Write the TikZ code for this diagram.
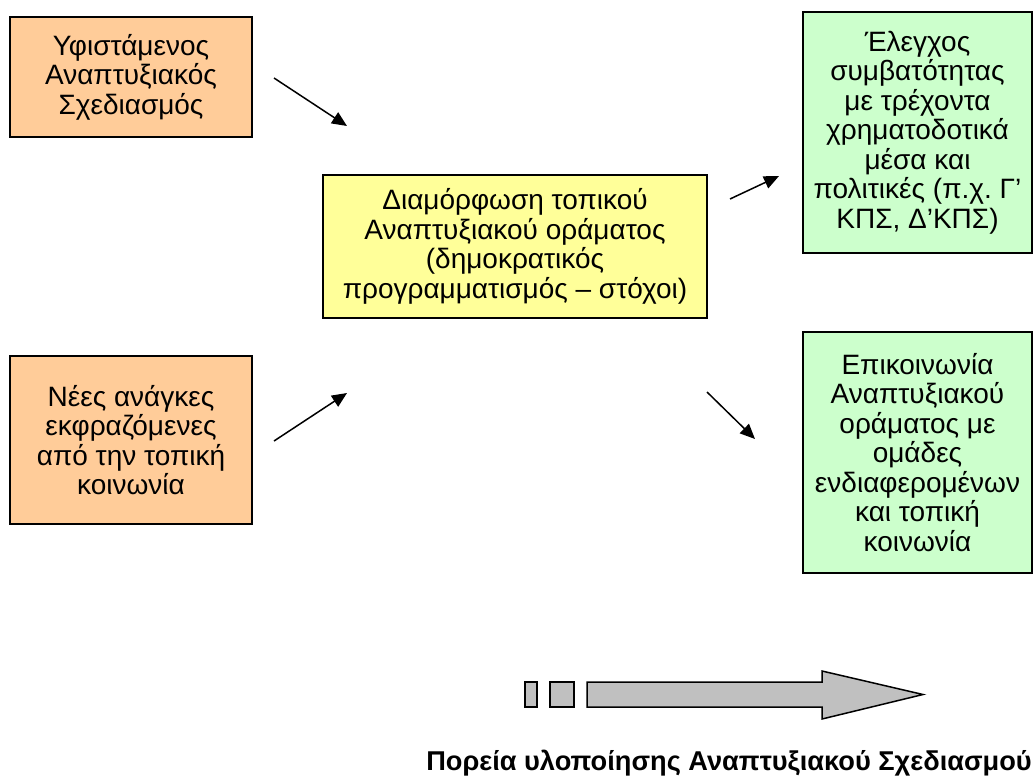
\documentclass[tikz,border=0pt]{standalone}
\usepackage{fontspec}
\setmainfont{Liberation Sans}
\usepackage{xcolor}
\usetikzlibrary{arrows.meta}
\frenchspacing

\definecolor{peach}{HTML}{FFCC99}
\definecolor{paleyellow}{HTML}{FFFF99}
\definecolor{palegreen}{HTML}{CCFFCC}
\definecolor{arrowgray}{HTML}{C0C0C0}

\begin{document}
\begin{tikzpicture}[
    x=0.5pt, y=-0.5pt,
    font=\fontsize{14}{14.75}\selectfont,
    box/.style={draw, line width=0.9pt, align=center, inner sep=0pt},
    inbox/.style={box, fill=peach, minimum width=121pt},
    outbox/.style={box, fill=palegreen, minimum width=114.5pt, minimum height=120.5pt},
    flow/.style={-{Triangle[length=7.5pt,width=6.5pt]}, line width=0.75pt},
    chunk/.style={draw, fill=arrowgray, line width=0.75pt}
]
    \useasboundingbox (0,0) rectangle (1033,782);

    % inputs
    \node[inbox, minimum height=60pt] (plan) at (131,77) {Υφιστάμενος\\Αναπτυξιακός\\Σχεδιασμός};
    \node[inbox, minimum height=84pt] (needs) at (131,440) {Νέες ανάγκες\\εκφραζόμενες\\από την τοπική\\κοινωνία};

    % vision
    \node[box, fill=paleyellow, minimum width=192pt, minimum height=71.5pt] (vision) at (515,246.5) {Διαμόρφωση τοπικού\\Αναπτυξιακού οράματος\\(δημοκρατικός\\προγραμματισμός – στόχοι)};

    % outputs
    \node[outbox] (check) at (917.5,132.5) {Έλεγχος\\συμβατότητας\\με τρέχοντα\\χρηματοδοτικά\\μέσα και\\πολιτικές (π.χ. Γ’\\ΚΠΣ, Δ’ΚΠΣ)};
    \node[outbox] (comm) at (917.5,452.5) {Επικοινωνία\\Αναπτυξιακού\\οράματος με\\ομάδες\\ενδιαφερομένων\\και τοπική\\κοινωνία};

    % arrows
    \coordinate (plan-out) at (274,78);
    \coordinate (vision-in1) at (347,126);
    \coordinate (needs-out) at (274,441);
    \coordinate (vision-in2) at (347,393);
    \coordinate (vision-out1) at (730,199);
    \coordinate (check-in) at (779,176);
    \coordinate (vision-out2) at (707,392);
    \coordinate (comm-in) at (755,439);
    \draw[flow] (plan-out) -- (vision-in1);
    \draw[flow] (needs-out) -- (vision-in2);
    \draw[flow] (vision-out1) -- (check-in);
    \draw[flow] (vision-out2) -- (comm-in);

    % progress arrow
    \draw[chunk] (525,682) rectangle (537,707);
    \draw[chunk] (550,682) rectangle (574,707);
    \draw[chunk] (587,682) -- (822,682) -- (822,671) -- (923,694.5) -- (822,719) -- (822,707) -- (587,707) -- cycle;
    \node[font=\fontsize{13.6}{14.75}\selectfont\bfseries] (caption) at (729,763) {Πορεία υλοποίησης Αναπτυξιακού Σχεδιασμού};
\end{tikzpicture}
\end{document}
